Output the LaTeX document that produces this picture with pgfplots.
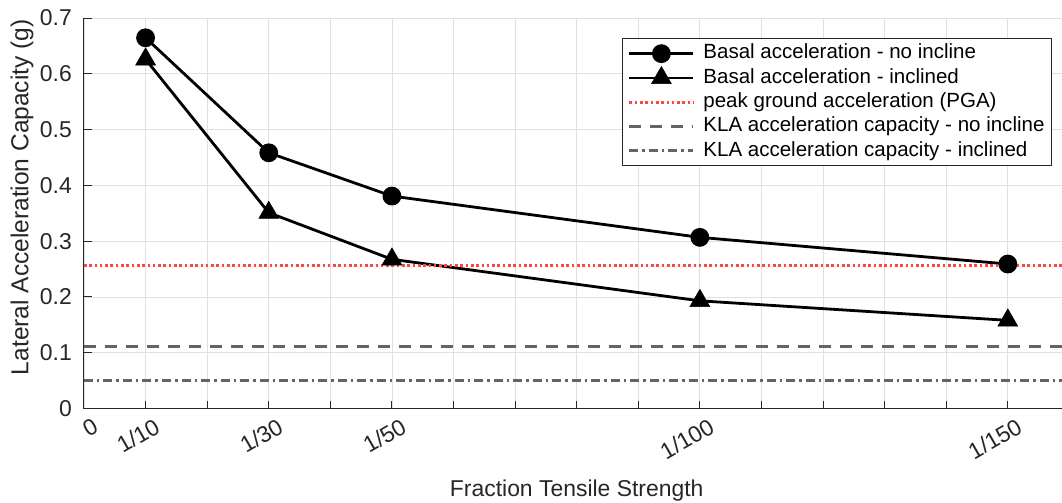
\documentclass[border=0pt]{standalone}
\usepackage{pgfplots}
\pgfplotsset{compat=1.18}
\usepackage{fontspec}
\setmainfont{Liberation Sans}
\definecolor{axgray}{RGB}{38,38,38}
\definecolor{pgared}{RGB}{255,70,70}
\definecolor{klagray}{RGB}{100,100,100}
\begin{document}
\begin{tikzpicture}
\begin{axis}[
  scale only axis, width=978bp, height=390.5bp,
  xmin=0, xmax=158.8, ymin=0, ymax=0.7,
  axis x line*=bottom, axis y line*=left,
  axis line style={axgray, line width=1bp},
  xtick={0,10,20,30,40,50,60,70,80,90,100,110,120,130,140,150},
  xticklabels={0,1/10,{},1/30,{},1/50,{},{},{},{},1/100,{},{},{},{},1/150},
  ytick={0,0.1,0.2,0.3,0.4,0.5,0.6,0.7},
  yticklabels={0,0.1,0.2,0.3,0.4,0.5,0.6,0.7},
  tick align=inside, major tick length=8bp,
  tick style={axgray, line width=1bp},
  grid=major, grid style={line width=0.8bp, black!12},
  ticklabel style={font=\fontsize{23}{27}\selectfont, text=axgray},
  xticklabel style={inner sep=0pt, xshift=12bp, yshift=-16bp, rotate=30, anchor=east},
  yticklabel style={inner sep=0pt, xshift=-12bp},
  label style={font=\fontsize{23}{27}\selectfont, text=axgray},
  xlabel={Fraction Tensile Strength},
  ylabel={Lateral Acceleration Capacity (g)},
  xlabel style={at={(axis cs:80,0)}, anchor=base, yshift=-87.5bp},
  ylabel style={at={(axis description cs:-0.05695,0.541)}, anchor=base, font=\fontsize{24.6}{28}\selectfont},
  legend style={at={(axis description cs:0.98978,0.9488)}, anchor=north east,
    draw=axgray, line width=1bp, fill=white,
    font=\fontsize{20.6}{24}\selectfont,
    inner xsep=7bp, inner ysep=5.5bp, row sep=5bp,
    nodes={inner sep=0pt, text height=15bp, text depth=4.3bp},
    /tikz/every odd column/.append style={column sep=10bp}},
  legend cell align=left,
  legend image code/.code={
    \pgfpathrectangle{\pgfpoint{0bp}{-4bp}}{\pgfpoint{64bp}{8bp}}\pgfusepath{discard}
    \draw[overlay,mark repeat=2,mark phase=2,#1] plot coordinates {(0bp,0bp) (32bp,0bp) (64bp,0bp)};
  },
]
\addplot[black, line width=2.8bp, mark=*, mark size=8bp, mark options={solid}]
  coordinates {(10,0.6645) (30,0.4584) (50,0.3808) (100,0.3068) (150,0.259)};
\addlegendentry{Basal acceleration - no incline}
\addplot[black, line width=2.8bp, mark=triangle*, mark size=11.5bp, mark options={solid, line width=0.5bp}]
  coordinates {(10,0.626) (30,0.351) (50,0.2674) (100,0.193) (150,0.158)};
\addlegendentry{Basal acceleration - inclined}
\addplot[pgared, line width=2.8bp, dash pattern=on 2.6bp off 2.7bp]
  coordinates {(0,0.257) (158.8,0.257)};
\addlegendentry{peak ground acceleration (PGA)}
\addplot[klagray, line width=3bp, dash pattern=on 12bp off 9bp]
  coordinates {(0,0.112) (158.8,0.112)};
\addlegendentry{KLA acceleration capacity - no incline}
\addplot[klagray, line width=3bp, dash pattern=on 9bp off 4bp on 2.5bp off 4bp]
  coordinates {(0,0.05) (158.8,0.05)};
\addlegendentry{KLA acceleration capacity - inclined}
\end{axis}
\pgfresetboundingbox
\path[use as bounding box] (-84bp,-94.5bp) rectangle (978bp,408.5bp);
\end{tikzpicture}
\end{document}
